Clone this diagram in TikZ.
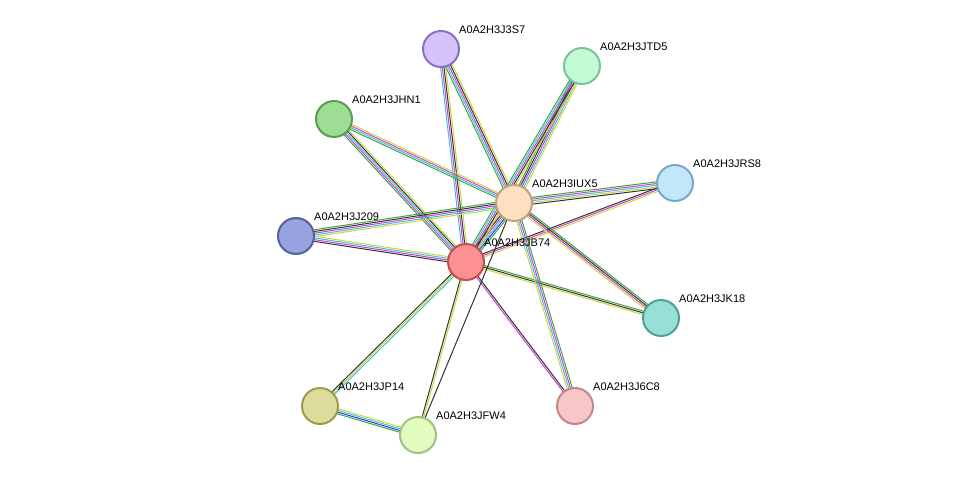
\documentclass[tikz,border=0pt]{standalone}
\usepackage{fontspec}
\setmainfont{Liberation Sans}
\usetikzlibrary{calc,backgrounds}
\definecolor{tmine}{HTML}{C8D83C}
\definecolor{coex}{HTML}{333333}
\definecolor{expt}{HTML}{D040D0}
\definecolor{dbase}{HTML}{40C0E0}
\definecolor{nbhd}{HTML}{3CA83C}
\definecolor{cooc}{HTML}{3040D0}
\definecolor{fj3s7}{HTML}{D5C3FB}\definecolor{bj3s7}{HTML}{8A70C0}
\definecolor{fjtd5}{HTML}{C3FBD6}\definecolor{bjtd5}{HTML}{7AC39A}
\definecolor{fjhn1}{HTML}{9EDE94}\definecolor{bjhn1}{HTML}{5A9E50}
\definecolor{fjrs8}{HTML}{C3E6FB}\definecolor{bjrs8}{HTML}{7AA8C6}
\definecolor{fiux5}{HTML}{FDE0C0}\definecolor{biux5}{HTML}{C5A080}
\definecolor{fj209}{HTML}{98A2DE}\definecolor{bj209}{HTML}{55609E}
\definecolor{fjb74}{HTML}{FD9090}\definecolor{bjb74}{HTML}{C05050}
\definecolor{fjk18}{HTML}{98E0D6}\definecolor{bjk18}{HTML}{50A094}
\definecolor{fjp14}{HTML}{DEDC9A}\definecolor{bjp14}{HTML}{9E9C50}
\definecolor{fjfw4}{HTML}{E2FCC0}\definecolor{bjfw4}{HTML}{A2C080}
\definecolor{fj6c8}{HTML}{F8C6C6}\definecolor{bj6c8}{HTML}{C08888}
\tikzset{
  prot/.style={circle, minimum size=36pt, inner sep=0pt, fill=f#1, draw=b#1, line width=2pt},
  lbl/.style={anchor=south west, inner sep=0pt, font=\fontsize{11}{12}\selectfont},
}
% several parallel evidence lines between two nodes
\newcommand\evlink[3]{%
  \foreach \c [count=\i] in {#3} {\xdef\nlinks{\i}}
  \foreach \c [count=\i] in {#3} {
    \pgfmathsetmacro\off{(\i-(\nlinks+1)/2)*1.7}
    \draw[\c, line width=1pt] ($(#1.center)!\off pt!90:(#2.center)$) -- ($(#2.center)!\off pt!-90:(#1.center)$);
  }}
\begin{document}
\begin{tikzpicture}[x=1pt,y=-1pt]
\useasboundingbox (0,0) rectangle (976,481);
\foreach \n/\x/\y in {j3s7/441/49, jtd5/582/66, jhn1/334/119, jrs8/675/183,
  iux5/514/203, j209/296/236, jb74/466/262, jk18/661/318,
  jp14/320/406, jfw4/418/435, j6c8/575/406}
  \node[prot=\n] (\n) at (\x,\y) {};
\foreach \n/\t in {j3s7/A0A2H3J3S7, jtd5/A0A2H3JTD5, jhn1/A0A2H3JHN1, jrs8/A0A2H3JRS8,
  iux5/A0A2H3IUX5, j209/A0A2H3J209, jb74/A0A2H3JB74, jk18/A0A2H3JK18,
  jp14/A0A2H3JP14, jfw4/A0A2H3JFW4, j6c8/A0A2H3J6C8}
  \node[lbl] (\n-l) at ($(\n)+(18,-15)$) {\t};
\begin{scope}[on background layer]
\evlink{jb74}{iux5}{nbhd,cooc,dbase,expt,coex,tmine}
\evlink{j3s7}{jb74}{dbase,expt,coex,tmine}
\evlink{j3s7}{iux5}{nbhd,dbase,expt,coex,tmine}
\evlink{jtd5}{iux5}{nbhd,coex,expt,dbase,tmine}
\evlink{jtd5}{jb74}{nbhd,dbase,expt,coex,tmine}
\evlink{jhn1}{iux5}{nbhd,dbase,expt,tmine}
\evlink{jhn1}{jb74}{nbhd,expt,dbase,coex,tmine}
\evlink{jrs8}{iux5}{nbhd,expt,dbase,tmine,coex}
\evlink{jrs8}{jb74}{coex,expt,tmine}
\evlink{j209}{iux5}{tmine,dbase,expt,coex,nbhd}
\evlink{j209}{jb74}{coex,expt,dbase,tmine}
\evlink{jk18}{iux5}{nbhd,coex,expt,tmine}
\evlink{jk18}{jb74}{nbhd,coex,tmine}
\evlink{j6c8}{iux5}{nbhd,expt,dbase,tmine}
\evlink{j6c8}{jb74}{coex,expt}
\evlink{jp14}{jb74}{dbase,tmine,coex}
\evlink{jfw4}{jb74}{tmine,coex}
\evlink{jfw4}{iux5}{coex}
\evlink{jp14}{jfw4}{nbhd,cooc,dbase,tmine}
\end{scope}
\end{tikzpicture}
\end{document}
